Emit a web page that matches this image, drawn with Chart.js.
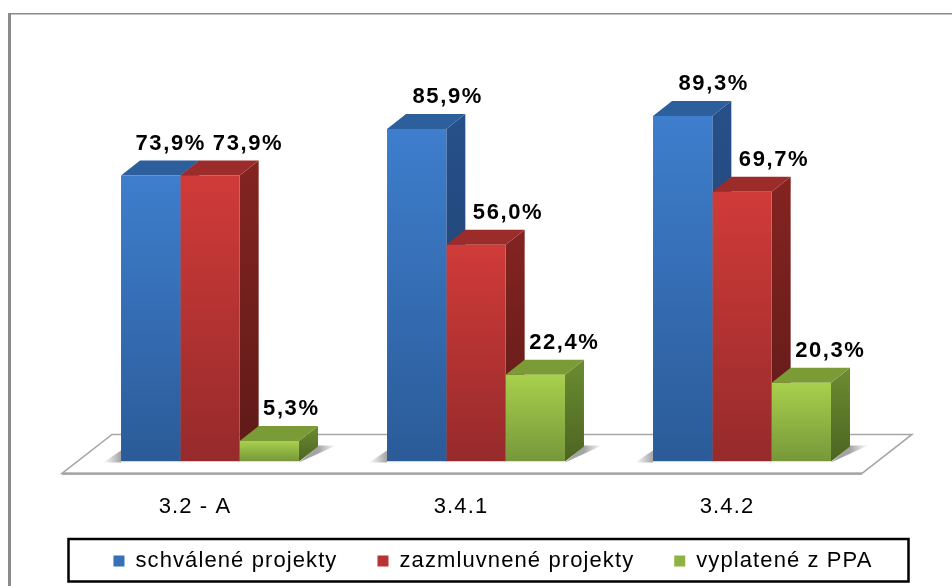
<!DOCTYPE html>
<html>
<head>
<meta charset="utf-8">
<style>
  html, body { margin: 0; padding: 0; background: #fff; }
  canvas { display: block; }
</style>
</head>
<body>
<canvas id="myChart" width="952" height="586"></canvas>
<script src="https://cdn.jsdelivr.net/npm/chart.js@4/dist/chart.umd.min.js"></script>
<script>
const categories = ['3.2 - A', '3.4.1', '3.4.2'];
const schvalene = [73.9, 85.9, 89.3];
const zazmluvnene = [73.9, 56.0, 69.7];
const vyplatene = [5.3, 22.4, 20.3];
const seriesNames = ['schválené projekty', 'zazmluvnené projekty', 'vyplatené z PPA'];

const fontName = '"Liberation Sans", Arial, sans-serif';
const depthX = 19, depthY = 15;
const palette = [
    { front: ['#3e7ecd', '#2b5b98'], side: ['#27508a', '#1e3e6b'], top: '#2c5f9c', key: '#3570b8', labelDx: 31 },
    { front: ['#d03b39', '#962a2b'], side: ['#842421', '#5e1a18'], top: '#9c2c2a', key: '#b83331', labelDx: 32 },
    { front: ['#a8d04c', '#76973a'], side: ['#6c8c31', '#4c6522'], top: '#7b9b37', key: '#8fb343', labelDx: 29 }
];

function poly(ctx, pts, fill) {
    ctx.beginPath();
    pts.forEach((p, i) => i ? ctx.lineTo(p[0], p[1]) : ctx.moveTo(p[0], p[1]));
    ctx.closePath();
    ctx.fillStyle = fill;
    ctx.fill();
}

const box3d = {
    id: 'box3d',
    beforeUpdate(chart) { chart.ctx.letterSpacing = '1.1px'; },
    beforeDraw(chart) {
        const ctx = chart.ctx;
        ctx.letterSpacing = '1.1px';
        // outer frame of the picture
        ctx.fillStyle = '#8a8a8a';
        ctx.fillRect(8, 13, 3, 573);
        ctx.fillRect(8, 13, 944, 1.5);
        // legend sits inside its box, a bit right of centre
        const lg = chart.legend;
        if (!lg._moved) {
            lg.left += 17; lg.right += 17;
            lg.top -= 4; lg.bottom -= 4;
            lg._moved = true;
        }
    },
    beforeDatasetsDraw(chart) {
        const ctx = chart.ctx, a = chart.chartArea, y0 = chart.scales.y.getPixelForValue(0);
        // floor
        ctx.save();
        ctx.beginPath();
        ctx.moveTo(a.left - 15, y0 + 12);
        ctx.lineTo(a.left + 35, y0 - 27);
        ctx.lineTo(a.right + 37, y0 - 27);
        ctx.lineTo(a.right - 13, y0 + 12);
        ctx.closePath();
        ctx.fillStyle = '#fff';
        ctx.fill();
        ctx.strokeStyle = '#a6a6a6';
        ctx.lineWidth = 1.5;
        ctx.stroke();
        ctx.fillStyle = '#a6a6a6';
        ctx.fillRect(a.left - 15, y0 + 11, a.right - a.left + 2, 2.5);
        // shadows either side of each group
        const first = chart.getDatasetMeta(0).data, last = chart.getDatasetMeta(2).data;
        first.forEach((el, i) => {
            const l = el.x - el.width / 2, r = last[i].x + last[i].width / 2;
            let g = ctx.createLinearGradient(l, 0, l - 18, 0);
            g.addColorStop(0, '#a4a4a4');
            g.addColorStop(1, '#ffffff');
            poly(ctx, [[l, y0 + 1], [l - 18, y0 + 1], [l, y0 - 11]], g);
            g = ctx.createLinearGradient(r + depthX, 0, r + depthX + 18, 0);
            g.addColorStop(0, '#a4a4a4');
            g.addColorStop(1, '#ffffff');
            poly(ctx, [[r, y0 + 1], [r + depthX, y0 - depthY - 1], [r + depthX + 18, y0 - depthY - 1]], g);
        });
        // sides and tops left to right, the fronts then go over them
        chart.data.datasets.forEach((ds, d) => {
            const colors = palette[d];
            chart.getDatasetMeta(d).data.forEach(el => {
                const r = el.x + el.width / 2, l = el.x - el.width / 2;
                const s = ctx.createLinearGradient(0, el.y - depthY, 0, el.base);
                s.addColorStop(0, colors.side[0]);
                s.addColorStop(1, colors.side[1]);
                poly(ctx, [[r, el.y], [r + depthX, el.y - depthY], [r + depthX, el.base - depthY], [r, el.base]], s);
                poly(ctx, [[l, el.y], [l + depthX, el.y - depthY], [r + depthX, el.y - depthY], [r, el.y]], colors.top);
                const f = ctx.createLinearGradient(0, el.y, 0, el.base);
                f.addColorStop(0, colors.front[0]);
                f.addColorStop(1, colors.front[1]);
                el.options = Object.assign({}, el.options, { backgroundColor: f });
            });
        });
        ctx.restore();
    },
    afterDraw(chart) {
        const ctx = chart.ctx;
        ctx.save();
        // value labels
        ctx.font = 'bold 22px ' + fontName;
        ctx.letterSpacing = '1.6px';
        ctx.fillStyle = '#000';
        ctx.textAlign = 'center';
        ctx.textBaseline = 'middle';
        chart.data.datasets.forEach((ds, d) => {
            chart.getDatasetMeta(d).data.forEach((el, i) => {
                let dx = palette[d].labelDx;
                // the two equal labels of the first group are pushed apart
                if (i === 0 && d === 0) dx = 20;
                if (i === 0 && d === 1) dx = 38;
                if (i === 0 && d === 2) dx = 22;
                ctx.fillText(ds.data[i].toFixed(1).replace('.', ',') + '%', el.x + dx, el.y - 32);
            });
        });
        // legend frame
        ctx.strokeStyle = '#000';
        ctx.lineWidth = 2.5;
        ctx.strokeRect(68.5, 539, 840, 42.5);
        ctx.restore();
    }
};

const hiddenAxis = {
    ticks: { display: false },
    grid: { display: false },
    border: { display: false },
    min: 0,
    max: 100,
    afterFit(scale) { scale.width = 77; }
};

const ctx = document.getElementById('myChart').getContext('2d');
const myChart = new Chart(ctx, {
    type: 'bar',
    plugins: [box3d],
    data: {
        labels: categories,
        datasets: [
            { label: seriesNames[0], data: schvalene, backgroundColor: palette[0].key },
            { label: seriesNames[1], data: zazmluvnene, backgroundColor: palette[1].key },
            { label: seriesNames[2], data: vyplatene, backgroundColor: palette[2].key }
        ]
    },
    options: {
        responsive: false,
        animation: false,
        layout: { padding: { left: 0, right: 0, top: 74.5, bottom: 0 } },
        datasets: { bar: { categoryPercentage: 0.669, barPercentage: 1 } },
        scales: {
            x: {
                grid: { display: false },
                border: { display: false },
                ticks: {
                    color: '#000',
                    font: { family: fontName, size: 22 },
                    padding: 24,
                    labelOffset: -15,
                    maxRotation: 0
                },
                afterFit(scale) { scale.height = 52.6; }
            },
            y: Object.assign({ position: 'left' }, hiddenAxis),
            yRight: Object.assign({ position: 'right' }, hiddenAxis)
        },
        plugins: {
            tooltip: { enabled: false },
            legend: {
                position: 'bottom',
                labels: {
                    color: '#000',
                    font: { family: fontName, size: 22 },
                    boxWidth: 11,
                    boxHeight: 11,
                    padding: 40
                }
            }
        }
    }
});
</script>
</body>
</html>
